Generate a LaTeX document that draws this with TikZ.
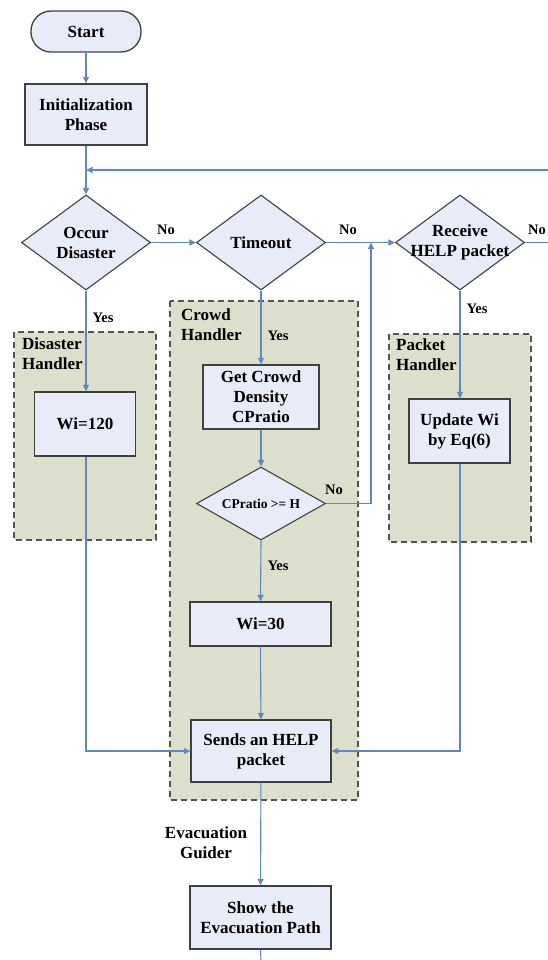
\documentclass[tikz,border=0pt]{standalone}
\usepackage{fontspec}
\setmainfont{Liberation Serif}
\usetikzlibrary{shapes.geometric,arrows.meta}
\definecolor{boxfill}{RGB}{232,236,248}
\definecolor{hfill}{RGB}{220,223,203}
\definecolor{edge}{RGB}{64,64,64}
\definecolor{conn}{RGB}{96,136,188}
\begin{document}
\begin{tikzpicture}[x=1pt,y=-1pt,
  every node/.style={font=\fontsize{17}{20}\selectfont\bfseries},
  procbox/.style={draw=edge,line width=1.3pt,fill=boxfill,rectangle,inner sep=0pt,align=center},
  decbox/.style={draw=edge,line width=1.1pt,fill=boxfill,diamond,inner sep=0pt},
  txt/.style={align=center,inner sep=0pt},
  htxt/.style={align=left,inner sep=0pt,anchor=west},
  lbl/.style={font=\fontsize{14.5}{16}\selectfont\bfseries,inner sep=0pt},
  handler/.style={draw=edge!90,fill=hfill,line width=1.6pt,dash pattern=on 6pt off 4pt},
  conline/.style={draw=conn,line width=1.1pt},
  arr/.style={conline,-{Triangle[length=6.5pt,width=6pt]}}
]
\useasboundingbox (0,0) rectangle (548,960);
\fill[white] (0,0) rectangle (548,960);

% handler backgrounds
\draw[handler] (14,332) rectangle (156,540);
\draw[handler] (170,301) rectangle (358,800);
\draw[handler] (389,334) rectangle (531,542);

\node[htxt] (dh) at (22,353.5) {Disaster\\Handler};
\node[htxt] (ch) at (181,324.5) {Crowd\\Handler};
\node[htxt] (ph) at (396,354.5) {Packet\\Handler};
\node[txt] (eg) at (206,842.5) {Evacuation\\Guider};

% nodes
\node[procbox,rounded corners=20pt,minimum width=110pt,minimum height=41pt] (start) at (86,31.5) {Start};
\node[procbox,minimum width=122pt,minimum height=61pt] (init) at (86,114.5) {Initialization\\Phase};
\node[decbox,minimum width=129pt,minimum height=95pt] (occur) at (86,242.5) {};
\node[txt] (occurT) at (occur) {Occur\\Disaster};
\node[decbox,minimum width=129pt,minimum height=95pt] (timeout) at (261,242.5) {};
\node[txt] (timeoutT) at (timeout) {Timeout};
\node[decbox,minimum width=129pt,minimum height=95pt] (receive) at (460,242.5) {};
\node[txt] (receiveT) at (receive) {Receive\\HELP packet};

\node[procbox,minimum width=101pt,minimum height=64pt] (wi120) at (85,424) {Wi=120};
\node[procbox,minimum width=116pt,minimum height=64pt] (getcrowd) at (261,397) {Get Crowd\\Density\\CPratio};
\node[decbox,minimum width=129pt,minimum height=73pt] (cpr) at (261,503.5) {};
\node[txt,font=\fontsize{13.5}{15}\selectfont\bfseries] (cprT) at (cpr) {CPratio >= H};
\node[procbox,minimum width=141pt,minimum height=44pt] (wi30) at (260.5,624) {Wi=30};
\node[procbox,minimum width=101pt,minimum height=64pt] (update) at (459.5,431) {Update Wi\\by Eq(6)};
\node[procbox,minimum width=140pt,minimum height=62pt] (sends) at (261,751) {Sends an HELP\\packet};
\node[procbox,minimum width=141pt,minimum height=63pt] (show) at (260.5,917.5) {Show the\\Evacuation Path};

% free-end coordinates
\coordinate (loopR) at (548,170);
\coordinate (loopL) at (86,170);
\coordinate (recR) at (548,242.5);
\coordinate (bottom) at (261,960);
\coordinate (cprJ) at (371,503.5);
\coordinate (cprUp) at (371,242.5);

% connectors
\draw[arr] (start) -- (init);
\draw[arr] (init) -- (occur.north);
\draw[arr] (loopR) -- (loopL);
\draw[conline] (receive.east) -- (recR);
\draw[arr] (occur.east) -- (timeout.west);
\draw[arr] (timeout.east) -- (receive.west);
\draw[arr] (cpr.east) -- (cprJ) -- (cprUp);
\draw[arr] (occur.south) -- (wi120.north -| occur.south);
\draw[arr] (timeout.south) -- (getcrowd.north);
\draw[arr] (receive.south) -- (update.north -| receive.south);
\draw[arr] (getcrowd) -- (cpr.north);
\draw[arr] (cpr.south) -- (wi30.north);
\draw[arr] (wi30) -- (sends);
\draw[arr] (wi120.south -| occur.south) |- (sends.west);
\draw[arr] (update.south -| receive.south) |- (sends.east);
\draw[arr] (sends) -- (show);
\draw[conline] (show.south) -- (bottom);

% labels
\node[lbl] (no1) at (166,230) {No};
\node[lbl] (no2) at (348,230) {No};
\node[lbl] (no3) at (537,230) {No};
\node[lbl] (no4) at (334,490) {No};
\node[lbl] (yes1) at (103,318) {Yes};
\node[lbl] (yes2) at (278,336) {Yes};
\node[lbl] (yes3) at (477,309) {Yes};
\node[lbl] (yes4) at (278,566) {Yes};
\end{tikzpicture}
\end{document}
